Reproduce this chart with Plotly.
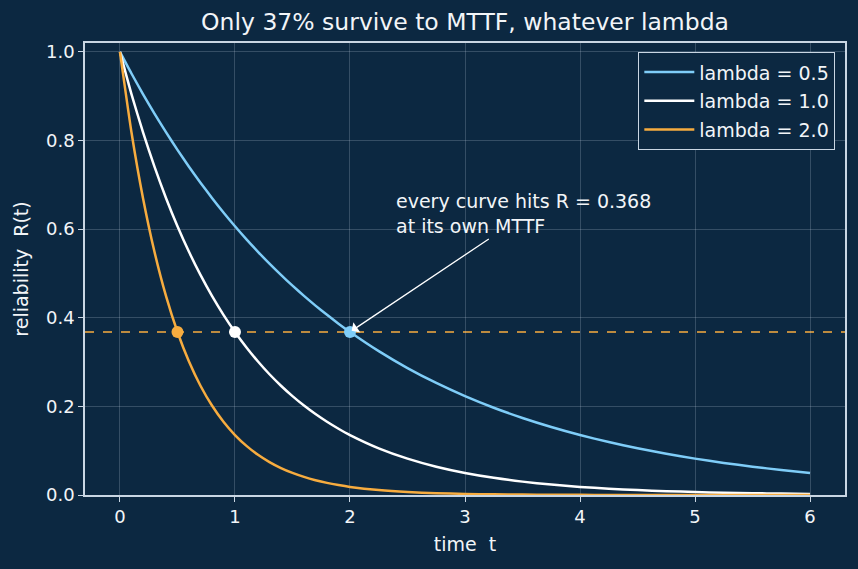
import plotly.graph_objects as go

t_vals = [0, 0.1, 0.2, 0.3, 0.4, 0.5, 0.6, 0.7, 0.8, 0.9, 1.0, 1.1, 1.2, 1.3, 1.4, 1.5,
          1.6, 1.7, 1.8, 1.9, 2.0, 2.25, 2.5, 2.75, 3, 3.25, 3.5, 3.75, 4, 4.25, 4.5,
          4.75, 5, 5.25, 5.5, 5.75, 6]
r_lam05 = [1.0, 0.9512, 0.9048, 0.8607, 0.8187, 0.7788, 0.7408, 0.7047, 0.6703, 0.6376,
           0.6065, 0.5769, 0.5488, 0.5220, 0.4966, 0.4724, 0.4493, 0.4274, 0.4066, 0.3867,
           0.3679, 0.3247, 0.2865, 0.2528, 0.2231, 0.1969, 0.1738, 0.1534, 0.1353, 0.1194,
           0.1054, 0.0930, 0.0821, 0.0724, 0.0639, 0.0564, 0.0498]
r_lam10 = [1.0, 0.9048, 0.8187, 0.7408, 0.6703, 0.6065, 0.5488, 0.4966, 0.4493, 0.4066,
           0.3679, 0.3329, 0.3012, 0.2725, 0.2466, 0.2231, 0.2019, 0.1827, 0.1653, 0.1496,
           0.1353, 0.1054, 0.0821, 0.0639, 0.0498, 0.0388, 0.0302, 0.0235, 0.0183, 0.0143,
           0.0111, 0.0087, 0.0067, 0.0052, 0.0041, 0.0032, 0.0025]
r_lam20 = [1.0, 0.8187, 0.6703, 0.5488, 0.4493, 0.3679, 0.3012, 0.2466, 0.2019, 0.1653,
           0.1353, 0.1108, 0.0907, 0.0743, 0.0608, 0.0498, 0.0408, 0.0334, 0.0273, 0.0224,
           0.0183, 0.0111, 0.0067, 0.0041, 0.0025, 0.0015, 0.0009, 0.0006, 0.0003, 0.0002,
           0.0001, 0.0001, 0.0, 0.0, 0.0, 0.0, 0.0]
series_names = ["lambda = 0.5", "lambda = 1.0", "lambda = 2.0"]
mttf_t = [2.0, 1.0, 0.5]
r_at_mttf = 0.368
x_ticks = [0, 1, 2, 3, 4, 5, 6]
y_ticks = [0.0, 0.2, 0.4, 0.6, 0.8, 1.0]

BG = "#0c2841"
FG = "#f2f5f8"
SPINE = "#c9d6e3"
colors = ["#7fcdf8", "#ffffff", "#f7ac3f"]
FONT = "DejaVu Sans"

fig = go.Figure()
for name, ys, c in zip(series_names, [r_lam05, r_lam10, r_lam20], colors):
    fig.add_trace(go.Scatter(x=t_vals, y=ys, mode="lines", name=name, legendgroup=name,
                             line=dict(color=c, width=2.5, shape="spline", smoothing=0.6)))

fig.add_shape(type="line", xref="paper", x0=0, x1=1, yref="y", y0=r_at_mttf, y1=r_at_mttf,
              line=dict(color=colors[2], width=1.6, dash="dash"), layer="below")

for mt, c in zip(mttf_t, colors):
    fig.add_trace(go.Scatter(x=[mt], y=[r_at_mttf], mode="markers", showlegend=False,
                             marker=dict(color=c, size=12, line=dict(width=0))))

fig.add_annotation(x=2, y=r_at_mttf, ax=3.22, ay=0.58, xref="x", yref="y", axref="x", ayref="y",
                   text="", showarrow=True, arrowhead=1, arrowsize=1.6, arrowwidth=1.3,
                   arrowcolor="#ffffff", standoff=2)
fig.add_annotation(x=2.38, y=0.635, xref="x", yref="y", xanchor="left", yanchor="middle",
                   text="every curve hits R = 0.368<br>at its own MTTF", showarrow=False,
                   align="left", font=dict(family=FONT, size=19, color=FG))

axis_common = dict(showline=True, linecolor=SPINE, linewidth=1.5, mirror=True,
                   ticks="outside", ticklen=5, tickwidth=1.2, tickcolor=SPINE,
                   showgrid=True, gridcolor="rgba(200,215,230,0.22)", gridwidth=0.8,
                   zeroline=False, tickfont=dict(family=FONT, size=18, color=FG),
                   title_font=dict(family=FONT, size=19, color=FG))

fig.update_layout(
    width=858, height=569,
    paper_bgcolor=BG, plot_bgcolor=BG,
    margin=dict(l=85, r=13, t=43, b=74),
    title=dict(text="Only 37% survive to MTTF, whatever lambda", x=0.542, xanchor="center",
               y=0.962, yanchor="middle", font=dict(family=FONT, size=23.5, color=FG)),
    xaxis=dict(range=[-0.304, 6.304], tickvals=x_ticks, ticktext=[str(v) for v in x_ticks],
               title=dict(text="time\u00a0\u00a0t", standoff=11), **axis_common),
    yaxis=dict(range=[0, 1.02], tickvals=y_ticks, ticktext=[f"{v:.1f}" for v in y_ticks],
               title=dict(text="reliability\u00a0\u00a0R(t)", standoff=12), **axis_common),
    legend=dict(x=0.987, y=0.98, xanchor="right", yanchor="top", bgcolor=BG,
                bordercolor=SPINE, borderwidth=1.2, itemwidth=50, tracegroupgap=1,
                font=dict(family=FONT, size=19, color=FG)),
    showlegend=True,
)

fig.write_html("out.html")
